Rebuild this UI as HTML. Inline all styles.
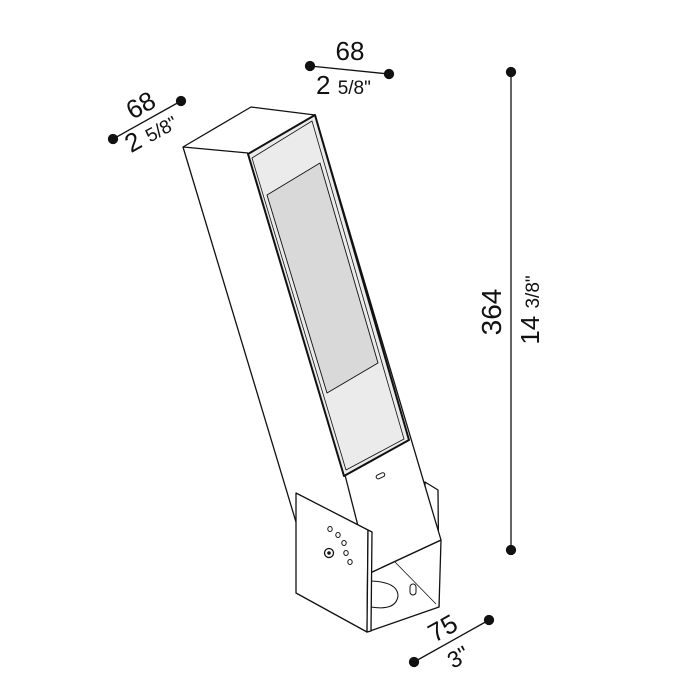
<!DOCTYPE html>
<html><head><style>body{margin:0;background:#fff}svg{display:block}text{font-family:"Liberation Sans",sans-serif;fill:#111}</style></head>
<body><svg width="700" height="700" viewBox="0 0 700 700">
<g stroke="#111" stroke-width="1.3" fill="#fff" stroke-linejoin="round">
<polygon points="425,482 438,490 439,607 426,600"/>
<polygon points="370,573 441,540 439,607 367,632"/>
<line x1="395" y1="562" x2="436" y2="604" stroke-width="0.8"/>
<path d="M371,581 Q398,582 398,596 Q396,611 371,607" fill="#fff" stroke-width="1"/>
<rect x="410" y="584" width="6" height="11" rx="3" stroke-width="1"/>
<polygon points="183,147 251,107 315,115 441,540 370,573 296,522"/>
<line x1="183" y1="147" x2="248" y2="153"/>
<line x1="248" y1="153" x2="345" y2="475"/>
<line x1="345" y1="475" x2="370" y2="573"/>
<polygon points="248,154 315,115 409,440 344,476" fill="#ebebeb" stroke-width="2"/>
<polygon points="252,158 312,121 404,439 346,470" fill="#ebebeb" stroke-width="0.8"/>
<polygon points="267,195 320,163 378,363 327,393" fill="#d9d9d9" stroke-width="0.9"/>
<rect x="376" y="474" width="9" height="4" rx="2" transform="rotate(-25 380 476)" stroke-width="1"/>
<polygon points="296,493 368,530 367,632 296,593"/>
<polygon points="368,530 372,532 371,631 367,632"/>
<circle cx="329" cy="553" r="4.5" stroke-width="1.3"/><circle cx="329" cy="553" r="1.8" fill="#111" stroke="none"/>
<g stroke-width="1" fill="#fff">
<ellipse cx="330" cy="529" rx="2.2" ry="2.5"/><ellipse cx="338" cy="535" rx="2.2" ry="2.5"/>
<ellipse cx="344" cy="543" rx="2.2" ry="2.5"/><ellipse cx="346" cy="553" rx="2.2" ry="2.5"/>
<ellipse cx="350" cy="562" rx="2.2" ry="2.5"/></g>
</g>
<g stroke="#111" stroke-width="1.3" fill="#111">
<line x1="310" y1="66" x2="389" y2="74"/><circle cx="310" cy="66" r="4.5"/><circle cx="389" cy="74" r="4.5"/>
<line x1="113" y1="139" x2="181" y2="101"/><circle cx="113" cy="139" r="4.5"/><circle cx="181" cy="101" r="4.5"/>
<line x1="511" y1="72" x2="511" y2="550"/><circle cx="511" cy="72" r="4.5"/><circle cx="511" cy="550" r="4.5"/>
<line x1="414" y1="662" x2="489" y2="620"/><circle cx="414" cy="662" r="4.5"/><circle cx="489" cy="620" r="4.5"/>
</g>
<text x="350" y="60" font-size="26" text-anchor="middle">68</text>
<text x="316" y="94" font-size="26">2 <tspan font-size="19">5/8"</tspan></text>
<g transform="translate(145,113) rotate(-29)"><text x="0" y="0" font-size="26" text-anchor="middle">68</text></g>
<g transform="translate(155,140) rotate(-29)"><text x="0" y="0" font-size="26" text-anchor="middle">2 <tspan font-size="19">5/8"</tspan></text></g>
<g transform="translate(501,312) rotate(-90)"><text x="0" y="0" font-size="28" text-anchor="middle">364</text></g>
<g transform="translate(539,310) rotate(-90)"><text x="0" y="0" font-size="26" text-anchor="middle">14 <tspan font-size="19">3/8"</tspan></text></g>
<g transform="translate(447,636) rotate(-29)"><text x="0" y="0" font-size="26" text-anchor="middle">75</text></g>
<g transform="translate(462,664) rotate(-29)"><text x="0" y="0" font-size="23" text-anchor="middle">3"</text></g>
</svg></body></html>
